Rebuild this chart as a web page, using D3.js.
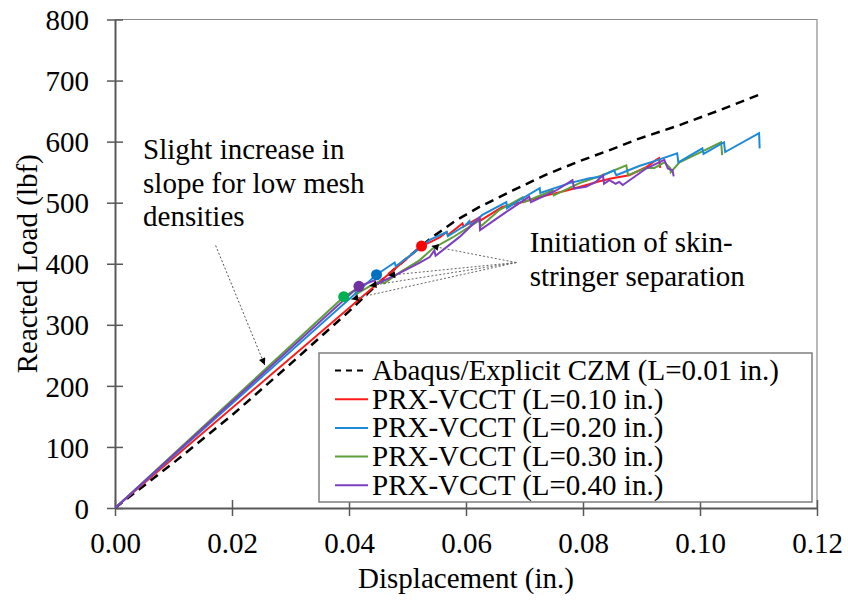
<!DOCTYPE html>
<html>
<head>
<meta charset="utf-8">
<script src="https://cdn.jsdelivr.net/npm/d3@7"></script>
</head>
<body style="margin:0">
<script>
// axis ticks
const xTicks = [0, 0.02, 0.04, 0.06, 0.08, 0.10, 0.12];
const yTicks = [0, 100, 200, 300, 400, 500, 600, 700, 800];

// series, [displacement (in.), load (lbf)]
const czm = [[0, 0], [0.01, 74], [0.02, 152], [0.03, 236], [0.04, 322], [0.045, 368], [0.05, 410],
    [0.0543, 444], [0.0583, 471], [0.0623, 493], [0.068, 520], [0.0737, 546], [0.0794, 568],
    [0.0848, 587], [0.0896, 605], [0.0965, 627], [0.1035, 652], [0.1104, 678]];

const prx10 = [[0, 0], [0.0524, 429], [0.0538, 435], [0.0555, 443], [0.0567, 452], [0.0569, 447],
    [0.0594, 466], [0.0596, 461], [0.0623, 476], [0.0625, 471], [0.0662, 493], [0.0697, 501],
    [0.0738, 512], [0.0772, 520], [0.0806, 529], [0.0828, 535], [0.0850, 540], [0.0879, 545],
    [0.0908, 558], [0.0925, 570], [0.0930, 573], [0.0932, 557]];

const prx20 = [[0, 0], [0.0447, 382], [0.0478, 402], [0.0480, 396], [0.0512, 419], [0.0538, 439],
    [0.0567, 452], [0.0569, 445], [0.0599, 463], [0.0606, 470], [0.0608, 463], [0.0628, 480],
    [0.0669, 501], [0.0670, 491], [0.0691, 504], [0.0726, 524], [0.0727, 516], [0.0777, 532],
    [0.0811, 540], [0.0828, 542], [0.0853, 553], [0.0857, 545], [0.0896, 560], [0.0922, 568],
    [0.0961, 581], [0.0963, 566], [0.1004, 589], [0.1006, 580], [0.1041, 599], [0.1043, 583],
    [0.1101, 614], [0.1102, 589]];

const prx30 = [[0, 0], [0.0391, 346], [0.0410, 357], [0.0412, 350], [0.0435, 363], [0.0452, 371],
    [0.0460, 368], [0.0487, 386], [0.0521, 406], [0.0543, 425], [0.0577, 443], [0.0623, 471],
    [0.0625, 461], [0.0657, 488], [0.0697, 509], [0.0699, 501], [0.0748, 520], [0.0750, 512],
    [0.0794, 532], [0.0833, 545], [0.0874, 561], [0.0877, 545], [0.0908, 557], [0.0922, 557],
    [0.0939, 566], [0.0949, 557], [0.0950, 550], [0.0965, 566], [0.1004, 584], [0.1036, 599], [0.1038, 578]];

const prx40 = [[0, 0], [0.0417, 363], [0.0444, 373], [0.0446, 366], [0.0487, 385], [0.0521, 402],
    [0.0538, 411], [0.0546, 422], [0.0548, 413], [0.0589, 444], [0.0623, 475], [0.0624, 455],
    [0.0669, 485], [0.0708, 510], [0.0711, 501], [0.0754, 520], [0.0782, 537], [0.0785, 523],
    [0.0805, 526], [0.0822, 534], [0.0834, 545], [0.0836, 531], [0.0845, 537], [0.0856, 531],
    [0.0862, 534], [0.0868, 529], [0.0908, 556], [0.0939, 570], [0.0945, 556], [0.0953, 553], [0.0955, 543]];

// separation initiation points
const initPts = [
    {d: 0.0524, L: 429, color: '#ff0000'},
    {d: 0.0447, L: 382, color: '#0070c0'},
    {d: 0.0417, L: 363, color: '#7030a0'},
    {d: 0.0391, L: 346, color: '#00b050'}
];

const series = [
    {name: 'Abaqus/Explicit CZM (L=0.01 in.)', data: czm, color: '#000', dash: '9,6', width: 2.5},
    {name: 'PRX-VCCT (L=0.10 in.)', data: prx10, color: '#ff1a1a', dash: null, width: 2},
    {name: 'PRX-VCCT (L=0.20 in.)', data: prx20, color: '#1c8ad9', dash: null, width: 2},
    {name: 'PRX-VCCT (L=0.30 in.)', data: prx30, color: '#5f9e3a', dash: null, width: 2},
    {name: 'PRX-VCCT (L=0.40 in.)', data: prx40, color: '#7d3fbf', dash: null, width: 2}
];
// draw order: purple ends up on top near the origin
const drawOrder = [0, 1, 3, 2, 4];

// annotation anchors in data units
const slopeNote = ['Slight increase in', 'slope for low mesh', 'densities'];
const slopeNotePos = [0.0048, 571];
const slopeArrow = [[0.0172, 430], [0.0256, 234]];
const initNote = ['Initiation of skin-', 'stringer separation'];
const initNotePos = [0.0709, 419];
const fanFrom = [0.0686, 402];
const fanTo = [[0.0541, 429], [0.0467, 381], [0.0435, 364], [0.0404, 342]];

const width = 848;
const height = 602;
const fs = 29;

const svg = d3.select('body').append('svg')
    .attr('width', width)
    .attr('height', height);

const x = d3.scaleLinear().domain([0, 0.12]).range([115, 817]);
const y = d3.scaleLinear().domain([0, 800]).range([508, 19.5]);

const defs = svg.append('defs');
defs.append('clipPath').attr('id', 'plot-clip')
    .append('rect').attr('x', 115).attr('y', 19.5).attr('width', 702).attr('height', 489);
defs.append('marker')
    .attr('id', 'arrow')
    .attr('viewBox', '0 0 10 10')
    .attr('refX', 10).attr('refY', 5)
    .attr('markerWidth', 9).attr('markerHeight', 7)
    .attr('markerUnits', 'userSpaceOnUse')
    .attr('orient', 'auto')
    .append('path').attr('d', 'M0,0 L10,5 L0,10 z').attr('fill', '#000');

// text look, set the same way on every label
function label(sel) {
    sel.style('font-family', '"Liberation Serif"').attr('font-size', fs).attr('fill', '#000');
}

// frame (top and right)
svg.append('path')
    .attr('d', `M${x(0)},${y(800)} H${x(0.12)} V${y(0)}`)
    .attr('fill', 'none')
    .attr('stroke', '#8c8c8c')
    .attr('stroke-width', 1.2);

// axes, ticks crossing the axis line
const xAxis = svg.append('g')
    .attr('transform', `translate(0,${y(0)})`)
    .call(d3.axisBottom(x).tickValues(xTicks).tickFormat(d3.format('.2f')).tickSizeOuter(0));
xAxis.attr('font-family', null).attr('font-size', null);
xAxis.select('.domain').attr('stroke', '#595959').attr('stroke-width', 2);
xAxis.selectAll('.tick line').attr('y1', -8).attr('y2', 8).attr('stroke', '#595959').attr('stroke-width', 1.5);
xAxis.selectAll('.tick text').attr('y', 45).attr('dy', null).call(label);

const yAxis = svg.append('g')
    .attr('transform', `translate(${x(0)},0)`)
    .call(d3.axisLeft(y).tickValues(yTicks).tickSizeOuter(0));
yAxis.attr('font-family', null).attr('font-size', null);
yAxis.select('.domain').attr('stroke', '#595959').attr('stroke-width', 2);
yAxis.selectAll('.tick line').attr('x1', -8).attr('x2', 8).attr('stroke', '#595959').attr('stroke-width', 1.5);
yAxis.selectAll('.tick text').attr('x', -26).attr('dy', '0.35em').call(label);

// axis titles
svg.append('text')
    .attr('x', (x(0) + x(0.12)) / 2)
    .attr('y', 588)
    .attr('text-anchor', 'middle')
    .call(label)
    .text('Displacement (in.)');
svg.append('text')
    .attr('transform', `translate(37,${(y(0) + y(800)) / 2}) rotate(-90)`)
    .attr('text-anchor', 'middle')
    .call(label)
    .text('Reacted Load (lbf)');

// curves
const line = d3.line().x(d => x(d[0])).y(d => y(d[1]));
const lines_g = svg.append('g').attr('clip-path', 'url(#plot-clip)');
for (const i of drawOrder) {
    const s = series[i];
    lines_g.append('path')
        .datum(s.data)
        .attr('d', line)
        .attr('fill', 'none')
        .attr('stroke', s.color)
        .attr('stroke-width', s.width)
        .attr('stroke-dasharray', s.dash)
        .attr('stroke-linejoin', 'miter');
}

// annotation leader lines
const ann_g = svg.append('g');
ann_g.append('line')
    .attr('x1', x(slopeArrow[0][0])).attr('y1', y(slopeArrow[0][1]))
    .attr('x2', x(slopeArrow[1][0])).attr('y2', y(slopeArrow[1][1]))
    .attr('stroke', '#555').attr('stroke-width', 1).attr('stroke-dasharray', '2,2')
    .attr('marker-end', 'url(#arrow)');
ann_g.selectAll('line.fan')
    .data(fanTo).enter()
    .append('line')
    .attr('class', 'fan')
    .attr('x1', x(fanFrom[0])).attr('y1', y(fanFrom[1]))
    .attr('x2', d => x(d[0])).attr('y2', d => y(d[1]))
    .attr('stroke', '#666').attr('stroke-width', 1).attr('stroke-dasharray', '2,2')
    .attr('marker-end', 'url(#arrow)');

// initiation dots
svg.append('g')
    .selectAll('circle')
    .data(initPts).enter()
    .append('circle')
    .attr('cx', d => x(d.d))
    .attr('cy', d => y(d.L))
    .attr('r', 5.5)
    .attr('fill', d => d.color);

// annotation texts
svg.append('g').selectAll('text')
    .data(slopeNote).enter()
    .append('text')
    .attr('x', x(slopeNotePos[0]))
    .attr('y', (d, i) => y(slopeNotePos[1]) + i * 33.5)
    .call(label)
    .text(d => d);
svg.append('g').selectAll('text')
    .data(initNote).enter()
    .append('text')
    .attr('x', x(initNotePos[0]))
    .attr('y', (d, i) => y(initNotePos[1]) + i * 33.5)
    .call(label)
    .text(d => d);

// legend
const legend = svg.append('g');
legend.append('rect')
    .attr('x', 319).attr('y', 353)
    .attr('width', 493).attr('height', 149)
    .attr('fill', '#fff')
    .attr('stroke', '#7f7f7f')
    .attr('stroke-width', 1.5);
const rows = legend.selectAll('g.row')
    .data(series).enter()
    .append('g')
    .attr('class', 'row')
    .attr('transform', (d, i) => `translate(0,${380 + i * 28.7})`);
rows.append('line')
    .attr('x1', 335).attr('x2', 368)
    .attr('y1', -9.5).attr('y2', -9.5)
    .attr('stroke', d => d.color)
    .attr('stroke-width', 2)
    .attr('stroke-dasharray', d => d.dash ? '6,5' : null);
rows.append('text')
    .attr('x', 372)
    .attr('y', 0)
    .call(label)
    .text(d => d.name);
</script>
</body>
</html>
